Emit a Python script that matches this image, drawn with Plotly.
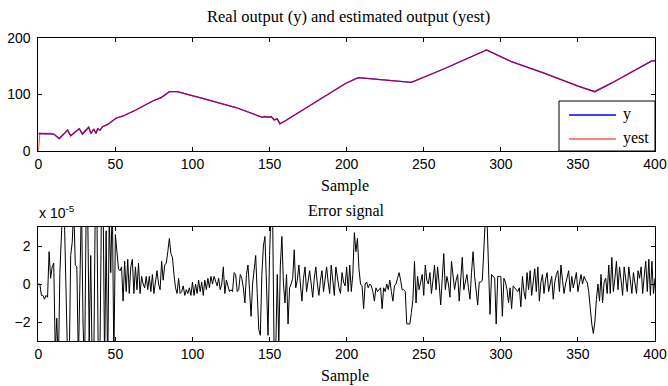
import plotly.graph_objects as go

# ---------------- data ----------------
# Real output (y) read at key samples
y_x = [0, 1, 8, 10, 13.6, 16, 19, 21, 24, 26.6, 28.6, 31, 32.7, 34.2, 36, 37.4, 38.5, 40, 41.7,
       45, 50.4, 55, 63.3, 74.2, 80, 85, 90, 106.6, 128.2, 141.2, 145.5, 147, 149.8, 151, 153,
       155, 156.7, 160, 175, 190, 199.5, 207.5, 220.5, 242, 263.7, 285.3, 290.7, 306.9, 328.5,
       350.1, 360.9, 371.7, 397.6, 400]
y_vals = [31, 31, 31, 30, 22, 28, 37, 27, 33, 39.5, 30, 38, 42, 31, 39, 31, 39.5, 37, 43,
          47, 58, 62, 72.5, 88.5, 95, 105, 105, 93, 77, 63.7, 59.6, 61, 59.6, 61, 55,
          57, 48, 53, 78, 103, 120, 130, 127, 121.6, 146, 171.7, 178.8, 158, 137.5,
          115, 105, 120, 159, 160]
# Estimated output (yest): identical except starts at 0
yest_vals = [0] + y_vals[1:]

# Error signal (units of 1e-5), samples 0..400
err_e5 = [
    0.0, 0.0, -0.6, -0.6, -0.8, -0.6, -0.7, 1.7, 0.3, 0.9,
    1.1, -3.6, -1.8, -4.5, 0.6, 3.8, 4.5, 3.2, -1.0, -4.0,
    -4.6, 1.5, 2.2, 4.0, 1.0, 0.9, -4.2, 1.0, 4.5, -2.0,
    -4.8, 3.5, 4.2, -3.0, 1.5, -4.5, -4.0, 4.6, 4.0, -4.8,
    -3.5, 4.2, 4.8, -4.2, 2.8, -4.6, 3.5, 0.6, 4.5, -4.0,
    2.6, 1.7, 0.8, 0.7, 0.9, -0.9, 1.2, -0.4, 1.3, -0.5,
    0.9, 1.3, -0.5, 0.9, -0.3, 1.1, -0.5, 0.4, 0.0, -0.2,
    0.4, -0.3, 0.4, -0.4, 0.5, -0.5, 0.2, 0.7, 0.0, -0.3,
    1.2, 0.2, 1.0, 1.1, 1.7, 2.4, 1.6, 1.4, 0.5, -0.2,
    -0.5, 0.3, -0.5, -0.4, -0.1, -0.6, -0.3, -0.5, -0.2, -0.6,
    0.1, -0.6, 0.0, -0.5, 0.2, -0.4, 0.1, -0.6, 0.2, -0.3,
    0.3, -0.2, 0.4, 0.0, 0.4, 0.1, -0.1, 0.3, -0.3, 0.0,
    0.9, -0.5, 0.2, -0.1, -0.4, -0.3, -0.4, 0.6, 0.5, -0.4,
    -0.3, 0.5, 0.3, -0.2, -1.0, 0.5, 1.0, -0.3, -1.7, 0.0,
    0.8, 1.5, -0.5, -2.4, -2.7, 0.5, 2.0, 2.5, 0.0, -2.7,
    1.5, 4.0, 3.5, -4.0, -3.5, 0.5, -3.2, 1.0, 2.5, 0.0,
    -1.0, 0.5, -2.1, -0.2, 0.0, 0.3, 1.8, -0.2, 0.2, 1.0,
    0.0, -0.9, 0.3, 0.9, -0.4, 0.2, 0.7, 0.0, -0.7, 0.3,
    0.9, 0.0, -0.6, 0.2, 0.7, -0.4, 0.3, 0.9, 0.1, -0.5,
    1.0, 0.2, -0.6, 0.9, 0.3, -0.2, -0.5, 0.6, 0.1, -0.1,
    0.9, -0.4, 1.0, -0.4, 0.5, 2.7, 1.7, 2.4, 0.8, 0.0,
    -0.1, -1.3, 0.0, 0.1, -0.2, 0.0, -0.1, -0.4, -0.9, -0.2,
    -0.4, -0.3, -0.2, -1.3, -0.2, -0.4, 0.0, -0.3, 0.2, -0.4,
    -0.9, -0.1, 0.0, 0.3, 0.6, 0.2, -0.3, -0.3, -0.4, -2.1,
    -2.1, -2.1, -1.5, -0.8, 1.2, -1.0, 0.4, -0.3, 0.1, 0.5,
    -0.6, 1.0, 0.2, 0.0, 0.6, -0.5, 0.2, 1.0, -0.3, 0.9,
    0.0, -1.1, 0.3, 1.6, -0.3, 0.4, 0.0, -0.7, 1.2, 0.3,
    -0.3, 0.2, 0.5, -0.9, 0.4, 1.4, -0.3, 0.2, 0.5, -0.2,
    -0.8, 0.6, 1.7, 0.4, -0.3, -1.1, 0.1, 0.1, 0.2, 2.2,
    3.5, 3.5, 0.5, -1.6, 0.5, 0.4, 0.3, -2.1, 0.4, 0.4,
    0.4, -1.7, 0.3, 0.1, -0.3, -1.0, -0.2, -1.3, -0.1, -0.2,
    -0.3, -0.4, -0.2, -1.2, 0.4, -0.4, -0.8, 0.6, -0.3, 0.7,
    -0.6, 0.2, 0.8, -0.4, 0.9, -0.9, 0.1, 0.5, -0.5, 0.2,
    0.6, -0.4, 0.1, 0.4, -0.8, 0.1, 0.5, 0.7, -0.4, 1.0,
    0.2, -0.5, 0.0, 0.3, 0.7, -0.4, 0.4, -0.2, 0.2, 0.6,
    -0.4, 0.1, 0.5, 0.0, 0.4, 0.2, 0.1, -0.4, -1.3, -2.1,
    -2.6, -2.0, -0.8, 0.0, -0.9, 0.5, -1.0, 0.1, 0.3, -0.5,
    1.0, -0.5, 1.4, -0.4, 0.3, 1.2, -0.3, 0.9, 0.2, -0.6,
    0.9, 0.1, -0.4, 0.9, 0.2, -0.5, 0.6, -0.1, -0.5, 0.7,
    0.3, 0.9, -0.5, 0.4, 1.2, -0.4, 1.3, -0.6, 1.2, -0.5,
    0.3,
]
samples = list(range(len(err_e5)))

x_ticks = [0, 50, 100, 150, 200, 250, 300, 350, 400]
y1_ticks = [0, 100, 200]
y2_ticks = [-2, 0, 2]
legend_names = ["y", "yest"]

# ---------------- figure ----------------
W, H = 668, 386
SERIF = "Liberation Serif, Times New Roman, serif"
SANS = "Liberation Sans, Arial, sans-serif"
Y_COLOR = "#0000ff"
YEST_COLOR = "rgba(255,0,0,0.65)"

fig = go.Figure()
fig.add_trace(go.Scatter(x=y_x, y=y_vals, mode="lines", name=legend_names[0],
                         line=dict(color=Y_COLOR, width=1.3), xaxis="x", yaxis="y"))
fig.add_trace(go.Scatter(x=y_x, y=yest_vals, mode="lines", name=legend_names[1],
                         line=dict(color=YEST_COLOR, width=1.3), xaxis="x", yaxis="y"))
fig.add_trace(go.Scatter(x=samples, y=err_e5, mode="lines",
                         line=dict(color="black", width=1), xaxis="x2", yaxis="y2"))

xd = [38.3 / W, 655 / W]
top_dom = [1 - 151 / H, 1 - 38 / H]
bot_dom = [1 - 341 / H, 1 - 227 / H]

axis_common = dict(showline=True, linecolor="black", linewidth=1, mirror="ticks",
                   ticks="inside", ticklen=4, tickcolor="black", showgrid=False,
                   zeroline=False, automargin=False,
                   tickfont=dict(family=SANS, size=14, color="black"))

fig.update_layout(
    width=W, height=H, autosize=False,
    margin=dict(l=0, r=0, t=0, b=0, pad=0, autoexpand=False),
    paper_bgcolor="white", plot_bgcolor="white", showlegend=False,
    xaxis=dict(domain=xd, anchor="y", range=[0, 400], tickvals=x_ticks, **axis_common),
    yaxis=dict(domain=top_dom, anchor="x", range=[0, 200], tickvals=y1_ticks,
               ticklabelstandoff=4, **axis_common),
    xaxis2=dict(domain=xd, anchor="y2", range=[0, 400], tickvals=x_ticks, **axis_common),
    yaxis2=dict(domain=bot_dom, anchor="x2", range=[-3, 3], tickvals=y2_ticks,
                ticklabelstandoff=4, **axis_common),
)

def px(x):
    return x / W

def py(y):
    return 1 - y / H

def ann(text, x, y, size=16, family=SERIF, xanchor="center"):
    fig.add_annotation(text=text, x=px(x), y=py(y), xref="paper", yref="paper",
                       xanchor=xanchor, yanchor="middle", showarrow=False,
                       font=dict(family=family, size=size, color="black"))

ann("Real output (y) and estimated output (yest)", 348, 16, size=16.5)
ann("Sample", 345, 186)
ann("Error signal", 346.5, 211)
ann("Sample", 345, 376)
ann("x 10<sup>-5</sup>", 37, 212, size=14, family=SANS, xanchor="left")

# legend box (drawn like the MATLAB legend)
fig.add_shape(type="rect", xref="paper", yref="paper", x0=px(559), x1=px(655),
              y0=py(151), y1=py(101), fillcolor="white", line=dict(color="black", width=1),
              layer="above")
for name, color, yy in [(legend_names[0], Y_COLOR, 115), (legend_names[1], YEST_COLOR, 139)]:
    fig.add_shape(type="line", xref="paper", yref="paper", x0=px(569), x1=px(616),
                  y0=py(yy), y1=py(yy), line=dict(color=color, width=1.3), layer="above")
    ann(name, 621, yy - 1, size=16, xanchor="left")

fig.write_html("out.html")
